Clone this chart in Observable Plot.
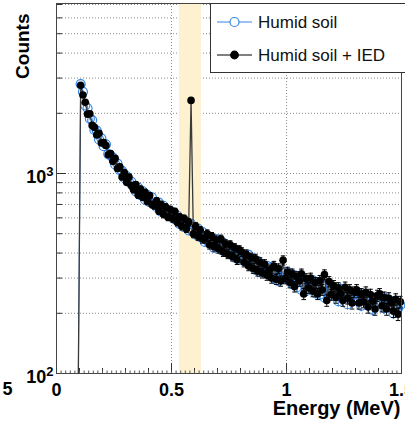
<!DOCTYPE html>
<html><head><meta charset="utf-8">
<script src="https://cdn.jsdelivr.net/npm/d3@7"></script>
<script src="https://cdn.jsdelivr.net/npm/@observablehq/plot@0.6"></script>
<style>
html,body{margin:0;padding:0;background:#fff;}
#chart{position:relative;width:405px;height:422px;overflow:hidden;}
svg{font-family:"Liberation Sans",Arial,Helvetica,sans-serif;}
</style></head><body><div id="chart"></div>
<script>
// Histogram binning (MeV)
const binStart = 0.10, binWidth = 0.01;
// Counts per bin
const soil = [
  2800, 2560, 2190, 2120, 1880, 1850, 1650, 1640, 1480, 1500,
  1370, 1400, 1250, 1230, 1200, 1110, 1120, 1040, 1030, 950,
  970, 905, 910, 860, 815, 850, 780, 815, 740, 780,
  720, 760, 700, 680, 715, 645, 690, 640, 655, 610,
  640, 590, 615, 560, 590, 540, 575, 520, 560, 510,
  495, 530, 480, 510, 455, 490, 450, 470, 425, 470,
  455, 415, 450, 405, 430, 395, 420, 380, 410, 370,
  390, 375, 360, 392, 345, 375, 330, 365, 320, 350,
  318, 345, 310, 340, 300, 330, 290, 325, 305, 320,
  295, 318, 280, 310, 270, 302, 262, 295, 258, 290,
  270, 292, 252, 285, 248, 282, 240, 275, 245, 268,
  255, 248, 230, 265, 238, 258, 222, 252, 245, 232,
  240, 252, 218, 246, 232, 222, 242, 208, 238, 226,
  230, 242, 212, 236, 220, 230, 200, 228, 212, 220
];
const soilIED = [
  2760, 2470, 2270, 1980, 1990, 1740, 1700, 1560, 1590, 1420,
  1430, 1380, 1240, 1260, 1150, 1190, 1060, 1080, 960, 1010,
  905, 960, 870, 830, 880, 780, 835, 760, 805, 725,
  775, 700, 690, 730, 650, 700, 625, 680, 605, 660,
  595, 645, 570, 605, 545, 595, 530, 570, 2320, 500,
  545, 485, 520, 470, 470, 500, 440, 485, 430, 465,
  420, 470, 405, 445, 395, 440, 385, 425, 370, 415,
  405, 360, 395, 345, 380, 335, 375, 325, 360, 318,
  352, 310, 330, 300, 345, 296, 335, 290, 368, 298,
  322, 285, 315, 272, 305, 290, 315, 250, 298, 268,
  300, 258, 285, 250, 292, 262, 312, 232, 288, 248,
  275, 240, 268, 252, 232, 270, 238, 262, 225, 255,
  262, 225, 250, 228, 255, 215, 248, 230, 210, 245,
  250, 218, 240, 210, 238, 225, 205, 235, 198, 228
];
const seriesNames = ["Humid soil", "Humid soil + IED"];
const seriesColors = ["#3584e4", "#000000"];
const band = [{x1: 0.535, x2: 0.63}];
const xDomain = [0, 1.5];
const yDomain = [100, 7080];
const xTicks = [0, 0.5, 1, 1.5];
const xTickLabels = ["0", "0.5", "1", "1.5"];
const yTicks = [100, 1000];
const yTickBase = "10";
const yTickExponents = ["2", "3"];
const yMinor = [200, 300, 400, 500, 600, 700, 800, 900, 2000, 3000, 4000, 5000, 6000, 7000];
const yGrid = [200, 300, 400, 500, 600, 700, 800, 900, 1000, 2000, 3000, 4000, 5000, 6000, 7000];
const xGrid = [0.5, 1];
const xTitle = "Energy (MeV)";
const yTitle = "Counts";
const strayLabel = ["5"];

const energies = soil.map((_, i) => +(binStart + binWidth * (i + 0.5)).toFixed(3));
const rows = vals => vals.map((v, i) => ({E: energies[i], v, lo: v - Math.sqrt(v), hi: v + Math.sqrt(v)}));
const blue = rows(soil), black = rows(soilIED);
const zeroBin = {E: +(binStart - binWidth / 2).toFixed(3), v: yDomain[0]};
const lineOf = arr => [zeroBin, ...arr];

const W = 405, H = 422, mL = 56, mR = 4, mT = 3, mB = 49;
const innerW = W - mL - mR, innerH = H - mT - mB;
const xMinor = d3.range(0, 1.5001, 0.1).map(d => +d.toFixed(2)).filter(d => !xTicks.includes(d));
const xTiny = d3.range(0, 1.5001, 0.02).map(d => +d.toFixed(2));
const grid = {stroke: "#8a8a8a", strokeDasharray: "1,2", strokeWidth: 1};
const bold = {fontWeight: "bold", fill: "#000"};

const plot = Plot.plot({
  width: W, height: H,
  marginLeft: mL, marginRight: mR, marginTop: mT, marginBottom: mB,
  style: {fontFamily: "'Liberation Sans', Arial, Helvetica, sans-serif", background: "#fff"},
  x: {domain: xDomain, axis: null},
  y: {type: "log", domain: yDomain, axis: null},
  marks: [
    Plot.ruleY(yGrid, {y: d => d, ...grid}),
    Plot.ruleX(xGrid, {x: d => d, ...grid}),
    Plot.rect(band, {x1: "x1", x2: "x2", fill: "#fdf1d0"}),
    // Humid soil
    Plot.line(lineOf(blue), {x: "E", y: "v", stroke: seriesColors[0], strokeWidth: 1}),
    Plot.ruleX(blue, {x: "E", y1: "lo", y2: "hi", stroke: seriesColors[0], strokeWidth: 1}),
    Plot.dot(blue, {x: "E", y: "v", r: 4.5, stroke: seriesColors[0], strokeWidth: 1.2, fill: "none"}),
    // Humid soil + IED
    Plot.line(lineOf(black), {x: "E", y: "v", stroke: "#3a3a3a", strokeWidth: 1.3}),
    Plot.ruleX(black, {x: "E", y1: "lo", y2: "hi", stroke: "#000", strokeWidth: 1}),
    Plot.link(black, {x1: d => d.E - 0.01, x2: d => d.E + 0.01, y1: "hi", y2: "hi", stroke: "#000"}),
    Plot.link(black, {x1: d => d.E - 0.01, x2: d => d.E + 0.01, y1: "lo", y2: "lo", stroke: "#000"}),
    Plot.dot(black, {x: "E", y: "v", r: 3.8, fill: "#000", stroke: "none"}),
    // ticks (inside)
    Plot.tickX(xTicks, {x: d => d, insetTop: innerH - 10, stroke: "#333"}),
    Plot.tickX(xMinor, {x: d => d, insetTop: innerH - 5, stroke: "#333"}),
    Plot.tickX(xTiny, {x: d => d, insetTop: innerH - 2.5, stroke: "#555"}),
    Plot.tickY(yTicks, {y: d => d, insetRight: innerW - 10, stroke: "#333"}),
    Plot.tickY(yMinor, {y: d => d, insetRight: innerW - 6, stroke: "#333"}),
    Plot.frame({stroke: "#444"}),
    // labels
    Plot.text(xTicks, {x: d => d, text: (d, i) => xTickLabels[i], frameAnchor: "bottom", dy: 16.5, lineAnchor: "middle", fontSize: 18, ...bold}),
    Plot.text(yTicks, {y: d => d, text: (d, i) => yTickBase + "^" + yTickExponents[i], frameAnchor: "left", dx: -3, dy: 4, textAnchor: "end", lineAnchor: "middle", fontSize: 18, ...bold}),
    Plot.text(strayLabel, {frameAnchor: "bottom-left", dx: -49, dy: 15.5, textAnchor: "middle", lineAnchor: "middle", fontSize: 18, ...bold}),
    Plot.text([xTitle], {frameAnchor: "bottom-right", dx: -1, dy: 35.5, textAnchor: "end", lineAnchor: "middle", fontSize: 20, ...bold}),
    Plot.text([yTitle], {frameAnchor: "top-left", dx: -34, dy: 10, rotate: -90, textAnchor: "end", lineAnchor: "middle", fontSize: 19, ...bold})
  ]
});

const svg = d3.select(plot);
// Render the "10^n" labels with a real superscript
svg.selectAll("text").each(function() {
  const t = this.textContent;
  if (/^10\^\d$/.test(t)) {
    const [base, exp] = t.split("^");
    const sel = d3.select(this);
    sel.text(null);
    sel.append("tspan").text(base);
    sel.append("tspan").attr("font-size", 13).attr("dy", "-0.55em").text(exp);
  }
});

// Legend box (ROOT TLegend style)
const lg = svg.append("g").attr("text-anchor", "start");
lg.append("rect").attr("x", 210.5).attr("y", 3.5).attr("width", 200).attr("height", 69)
  .attr("fill", "#fff").attr("stroke", "#333").attr("stroke-width", 1);
const entries = [
  {y: 22, color: seriesColors[0], filled: false, r: 4.5},
  {y: 55, color: seriesColors[1], filled: true, r: 3.8}
];
entries.forEach((e, i) => {
  lg.append("line").attr("x1", 217).attr("x2", 252).attr("y1", e.y).attr("y2", e.y)
    .attr("stroke", e.color).attr("stroke-width", 1);
  lg.append("circle").attr("cx", 234.5).attr("cy", e.y).attr("r", e.r)
    .attr("fill", e.filled ? e.color : "#fff").attr("stroke", e.color).attr("stroke-width", 1.2);
  lg.append("text").attr("x", 258).attr("y", e.y).attr("dy", "0.35em").attr("text-anchor", "start")
    .attr("font-size", 17).attr("fill", "#111").text(seriesNames[i]);
});

document.getElementById("chart").appendChild(plot);
</script>
</body></html>
